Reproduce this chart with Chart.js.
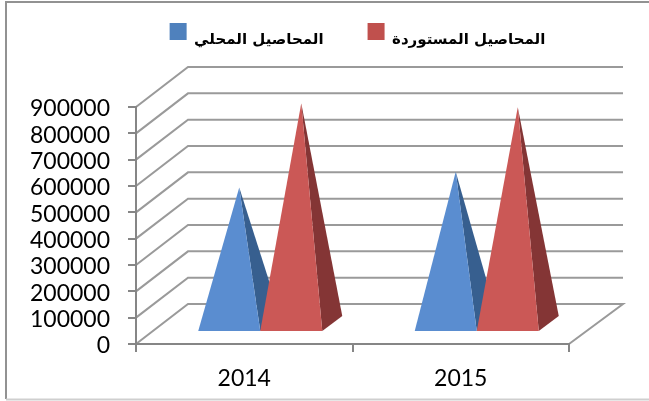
<!DOCTYPE html>
<html><head><meta charset="utf-8">
<style>html,body{margin:0;padding:0;background:#fff}#w{width:649px;height:401px;position:relative}</style>
<script src="https://cdn.jsdelivr.net/npm/chart.js@4"></script>
</head><body><div id="w"><canvas id="c" width="649" height="401"></canvas></div>
<script>
const categories = ["2014", "2015"];
const localValues = [520000, 580000];
const importedValues = [840000, 825000];
const localName = "المحاصيل المحلي";
const importedName = "المحاصيل المستوردة";
const legendColors = ["#4f81bd", "#c0504d"];
const tickFont = {family: "Lato", size: 23};
const depth = {x: 52, y: 40};
const GRID = "#9a9a9a";

const pyramids = {
  id: "pyramids",
  afterLayout(chart) {
    const l = chart.legend;
    l.left = 66; l.right = 649; l.top = -12;
    l.adjustHitBoxes();
  },
  beforeDraw(chart) {
    const {ctx, chartArea: a, scales: {y}} = chart;
    ctx.save();
    ctx.fillStyle = "#fff"; ctx.fillRect(0, 0, 649, 401);
    ctx.strokeStyle = "#929292"; ctx.lineWidth = 2;
    ctx.beginPath(); ctx.moveTo(649, 2); ctx.lineTo(6, 2); ctx.lineTo(6, 399); ctx.stroke();
    ctx.strokeStyle = "#cfcfcf"; ctx.beginPath(); ctx.moveTo(6, 399.5); ctx.lineTo(649, 399.5); ctx.stroke();
    ctx.strokeStyle = GRID; ctx.lineWidth = 2;
    y.ticks.forEach(t => {
      const py = y.getPixelForValue(t.value);
      ctx.beginPath();
      ctx.moveTo(a.left, py);
      ctx.lineTo(a.left + depth.x, py - depth.y);
      ctx.lineTo(a.right + depth.x + 2, py - depth.y);
      if (t.value === 0) ctx.lineTo(a.right, py);
      ctx.stroke();
    });
    ctx.restore();
  },
  beforeDatasetDraw() { return false; },
  afterDatasetsDraw(chart) {
    const {ctx} = chart;
    const shades = [["#5a8dd0", "#375f8f"], ["#cb5856", "#843535"]];
    chart.data.datasets.forEach((ds, i) => {
      chart.getDatasetMeta(i).data.forEach(el => {
        const half = el.width / 2;
        const cx = el.x + 16, fy = el.base - 12;
        const L = cx - half, R = cx + half;
        const ax = cx + 10, ay = el.y - 19.5;
        ctx.fillStyle = shades[i][1];
        ctx.beginPath(); ctx.moveTo(R, fy); ctx.lineTo(R + 20, fy - 15); ctx.lineTo(ax, ay); ctx.closePath(); ctx.fill();
        ctx.fillStyle = shades[i][0];
        ctx.beginPath(); ctx.moveTo(L, fy); ctx.lineTo(R, fy); ctx.lineTo(ax, ay); ctx.closePath(); ctx.fill();
      });
    });
  },
  afterDraw(chart) {
    const {ctx} = chart;
    const l = chart.legend;
    l.legendHitBoxes.forEach((b, i) => {
      ctx.fillStyle = legendColors[i];
      ctx.fillRect(b.left, l.top + 35, 17, 17);
    });
  }
};

new Chart(document.getElementById("c"), {
  type: "bar",
  data: {
    labels: categories,
    datasets: [
      {label: localName, data: localValues, backgroundColor: legendColors[0], borderWidth: 0},
      {label: importedName, data: importedValues, backgroundColor: legendColors[1], borderWidth: 0}
    ]
  },
  plugins: [pyramids],
  options: {
    responsive: false, animation: false,
    layout: {padding: {top: 36, right: 80, bottom: 0, left: 0}},
    datasets: {bar: {barPercentage: 1, categoryPercentage: 0.573}},
    plugins: {
      tooltip: {enabled: false},
      legend: {
        position: "top",
        onClick: null,
        labels: {
          boxWidth: 17, boxHeight: 17, padding: 44, color: "#000",
          font: {family: "'DejaVu Sans'", size: 15, weight: "bold"},
          generateLabels(chart) {
            return Chart.defaults.plugins.legend.labels.generateLabels(chart).map(it => ({...it, fillStyle: "rgba(0,0,0,0)", strokeStyle: "rgba(0,0,0,0)", lineWidth: 0}));
          }
        }
      }
    },
    scales: {
      x: {
        afterFit(s) { s.height = 57; },
        grid: {color: "#868686", lineWidth: 2, drawOnChartArea: false, tickLength: 8},
        border: {color: "#868686", width: 2},
        ticks: {color: "#000", font: tickFont, padding: 13, maxRotation: 0}
      },
      y: {
        min: 0, max: 900000,
        afterFit(s) { s.width = 136; },
        grid: {color: "#868686", lineWidth: 2, drawOnChartArea: false, tickLength: 8},
        border: {color: "#868686", width: 2},
        ticks: {color: "#000", font: tickFont, padding: 18, labelOffset: 2, stepSize: 100000, autoSkip: false, callback: v => String(v)}
      }
    }
  }
});
</script></body></html>
